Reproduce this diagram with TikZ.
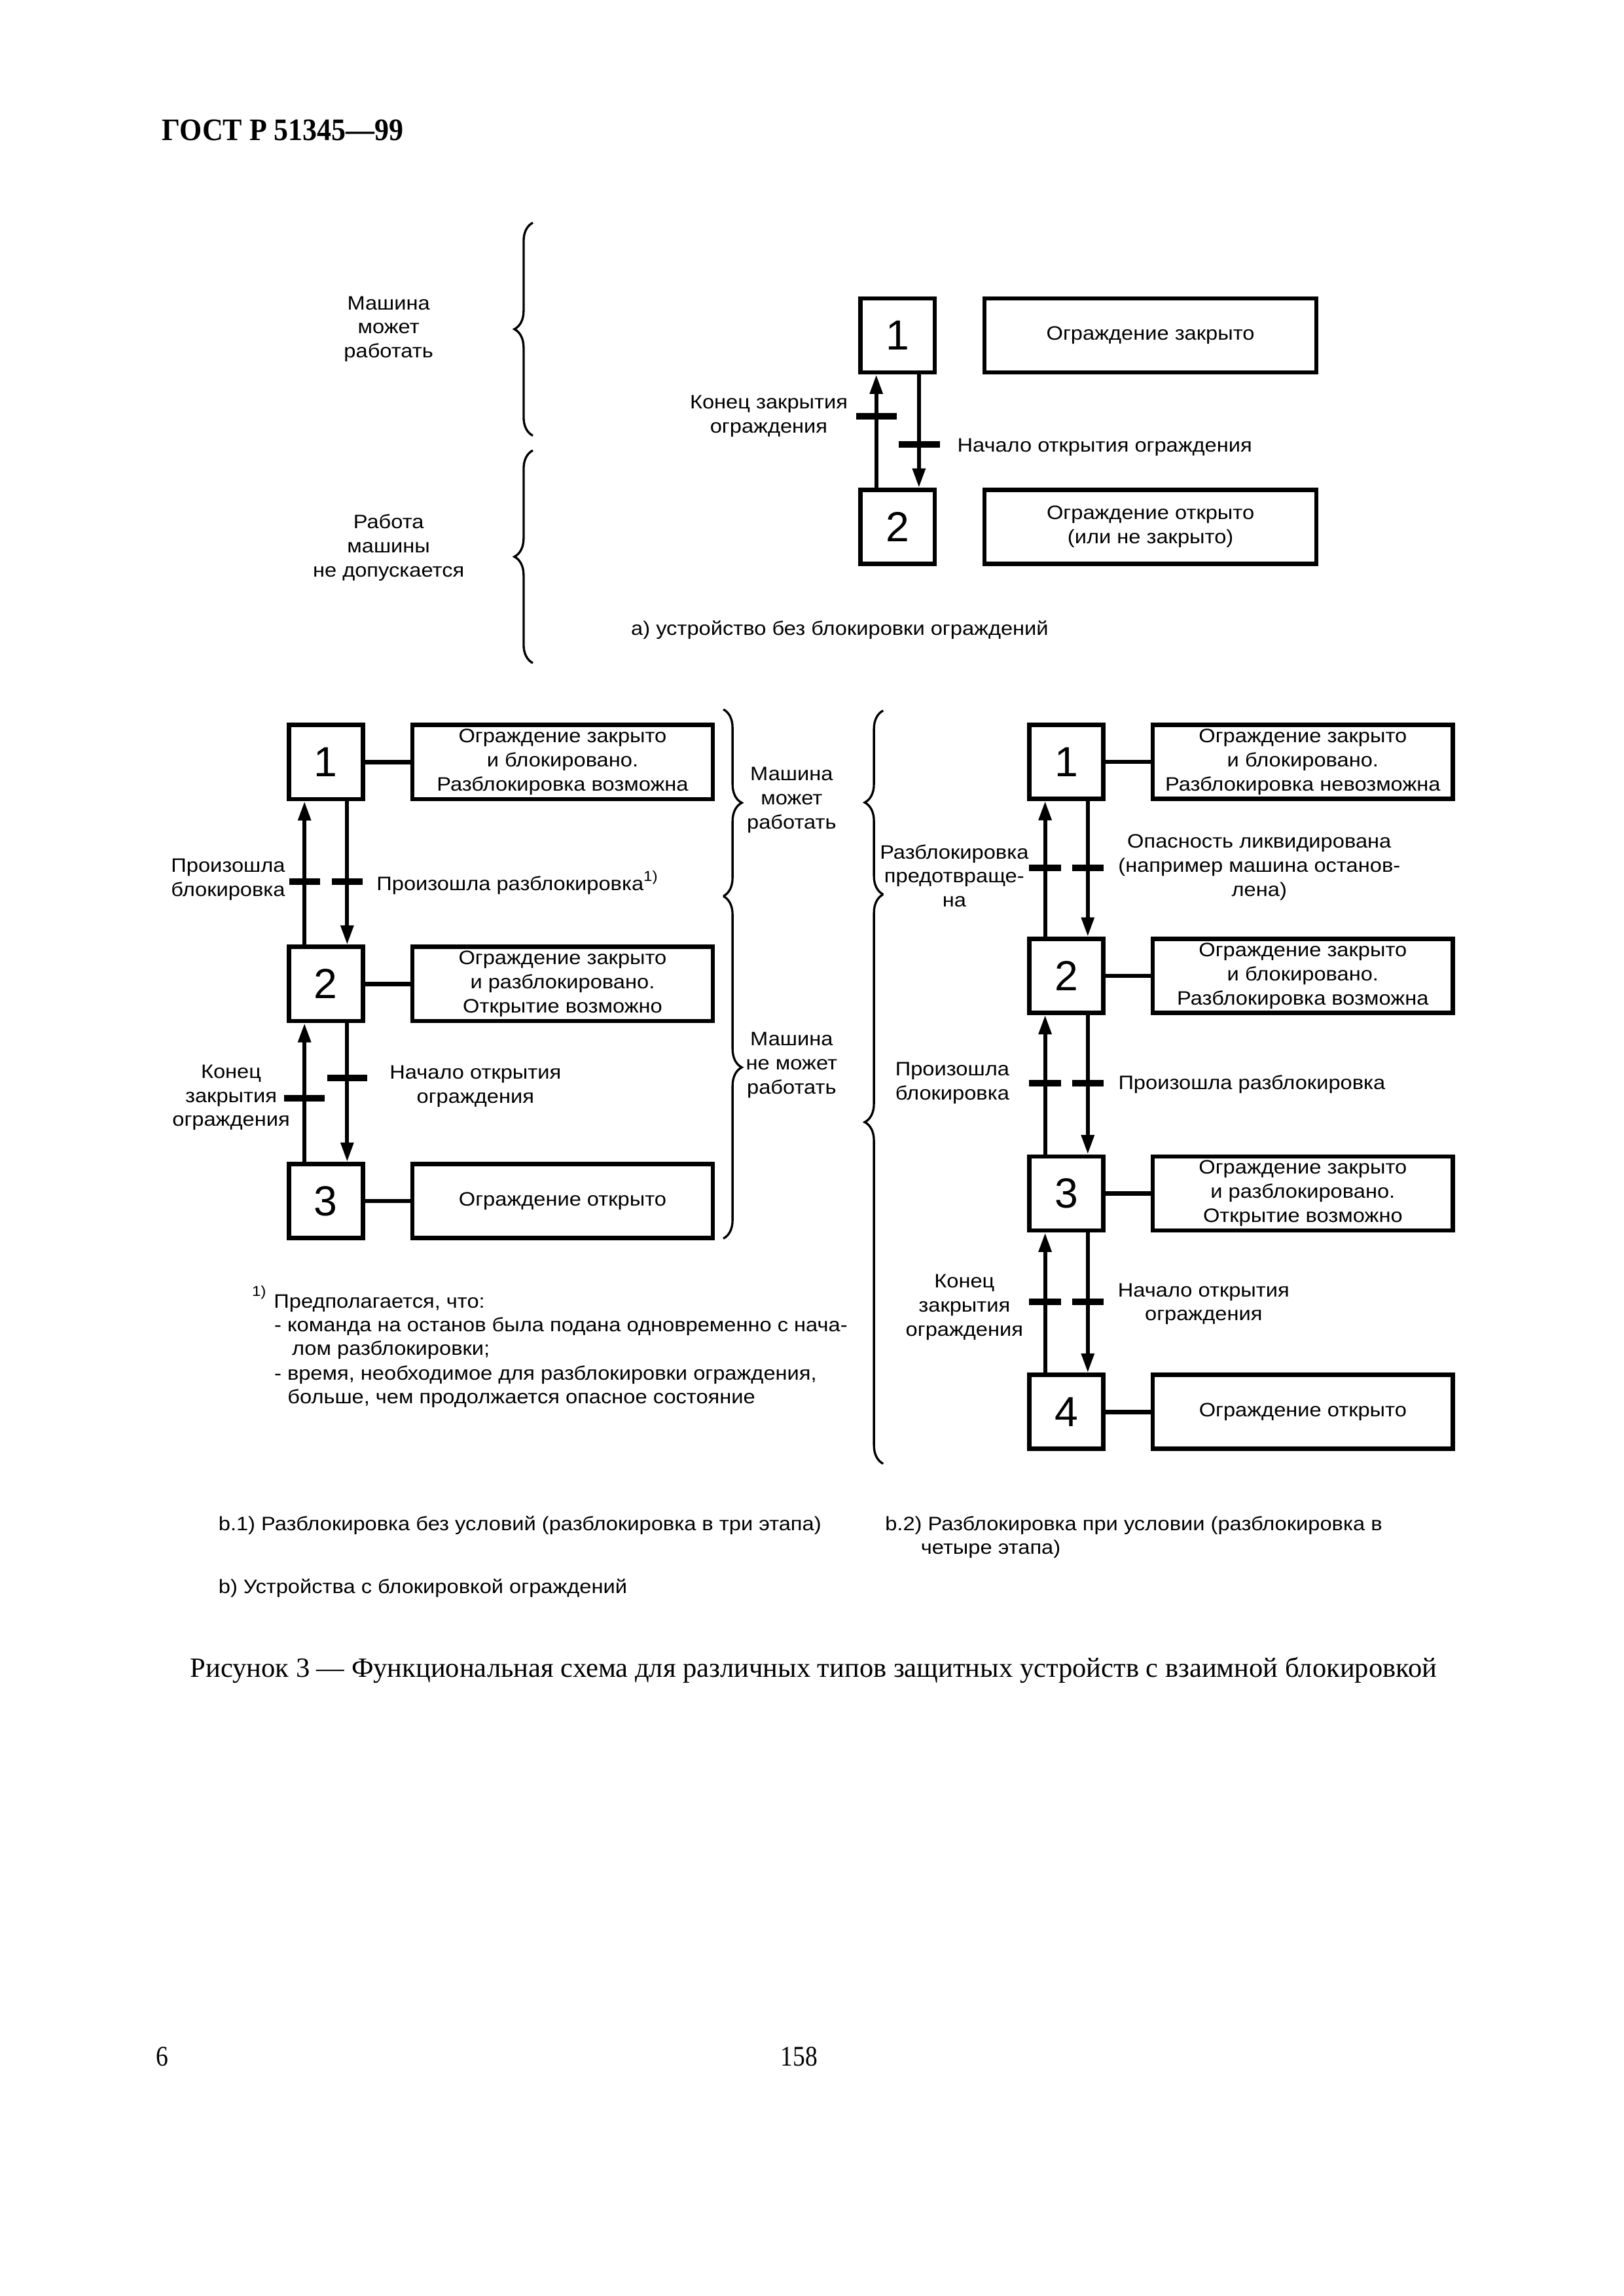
\documentclass[tikz,border=0pt]{standalone}
\usepackage{graphicx}
\usepackage{fontspec}
\setmainfont{Liberation Serif}
\newfontfamily\arialf{Liberation Sans}
\newfontfamily\arialw{Liberation Sans}[FakeStretch=1.10]
\usetikzlibrary{arrows.meta,decorations.pathreplacing,calc}
\def\txtf{\arialw\fontsize{7.15}{8.9}\selectfont}
\def\numf{\arialf\fontsize{15.5}{18}\selectfont}
\def\supf{\arialw\fontsize{5.3}{6}\selectfont}
\tikzset{
  num/.style={draw, line width=1.6pt, minimum width=0.958cm, minimum height=0.958cm, inner sep=0pt, font=\numf},
  tbox/.style={draw, line width=1.6pt, minimum width=#1, minimum height=0.958cm, inner sep=0pt, align=center, font=\txtf},
  lbl/.style={inner sep=0pt, align=center, font=\txtf},
  arr/.style={line width=1.5pt, -{Triangle[length=0.25cm,width=0.16cm]}},
  link/.style={line width=1.6pt},
  trans/.style={fill=black, inner sep=0pt, minimum height=2.4pt, minimum width=#1},
  brc/.style={decorate, decoration={brace, amplitude=6.8pt, aspect=#1}, line width=0.8pt},
}
\def\off{0.276cm}
\begin{document}
\begin{tikzpicture}[x=0.019039cm, y=-0.019039cm]
\useasboundingbox (0,0) rectangle (1103,1560);

% header
\node[anchor=base west, inner sep=0pt, font=\fontsize{11.5}{13}\selectfont\bfseries] (hdr) at (109.7,95.6) {\scalebox{0.92}[1]{ГОСТ Р 51345—99}};

% ================= part a =================
\node[num] (a1) at (609.8,227.9) {1};
\node[num] (a2) at (609.8,358.0) {2};
\node[tbox=4.294cm] (at1) at (781.6,227.9) {Ограждение закрыто};
\node[tbox=4.294cm] (at2) at (781.6,358.0) {Ограждение открыто\\(или не закрыто)};
\draw[arr] ([xshift=-\off]a2.north) -- ([xshift=-\off]a1.south);
\draw[arr] ([xshift=\off]a1.south) -- ([xshift=\off]a2.north);
\node[trans=0.524cm] (ta1) at (595.3,282.7) {};
\node[trans=0.530cm] (ta2) at (624.6,302.1) {};
\node[lbl] (la1) at (522.3,282.6) {Конец закрытия\\ограждения};
\node[lbl, anchor=mid west] (la2) at (650,303) {Начало открытия ограждения};
\node[lbl] (lma) at (264,223.6) {Машина\\может\\работать};
\node[lbl] (lmb) at (264,372.2) {Работа\\машины\\не допускается};
\draw[brc=0.5] (362,296) -- (362,151.3);
\draw[brc=0.5] (362,450.5) -- (362,306);
\node[lbl, anchor=mid west] (capa) at (428.4,427.2) {а) устройство без блокировки ограждений};

% ================= part b.1 =================
\node[num] (b1) at (221.35,517.75) {1};
\node[num] (b2) at (221.35,668.5) {2};
\node[num] (b3) at (221.35,816) {3};
\node[tbox=3.885cm] (bt1) at (382.2,517.75) {Ограждение закрыто\\и блокировано.\\Разблокировка возможна};
\node[tbox=3.885cm] (bt2) at (382.2,668.5) {Ограждение закрыто\\и разблокировано.\\Открытие возможно};
\node[tbox=3.885cm] (bt3) at (382.2,816) {Ограждение открыто};
\draw[link] (b1) -- (bt1);
\draw[link] (b2) -- (bt2);
\draw[link] (b3) -- (bt3);
\draw[arr] ([xshift=-\off]b2.north) -- ([xshift=-\off]b1.south);
\draw[arr] ([xshift=\off]b1.south) -- ([xshift=\off]b2.north);
\draw[arr] ([xshift=-\off]b3.north) -- ([xshift=-\off]b2.south);
\draw[arr] ([xshift=\off]b2.south) -- ([xshift=\off]b3.north);
\node[trans=0.40cm] (tb1) at (206.85,598.9) {};
\node[trans=0.40cm] (tb2) at (235.85,598.9) {};
\node[trans=0.52cm] (tb3) at (206.85,746.1) {};
\node[trans=0.52cm] (tb4) at (235.85,732.5) {};
\node[lbl] (lb1) at (155,597.6) {Произошла\\блокировка};
\node[lbl, anchor=mid west] (lb2) at (255.5,600.6) {Произошла разблокировка\raisebox{0.9ex}{\supf 1)}};
\node[lbl] (lb3) at (157,745.7) {Конец\\закрытия\\ограждения};
\node[lbl] (lb4) at (323,738) {Начало открытия\\ограждения};
\draw[brc=0.5] (491.4,482) -- (491.4,608.9);
\draw[brc=0.5] (491.4,608.9) -- (491.4,841.5);
\node[lbl] (lb5) at (537.8,543.7) {Машина\\может\\работать};
\node[lbl] (lb6) at (537.8,723.6) {Машина\\не может\\работать};

% footnote
\node[inner sep=0pt, font=\supf] (fn0) at (176,878) {1)};
\node[lbl, anchor=mid west] (fn1) at (185.7,884.5) {Предполагается, что:};
\node[lbl, anchor=mid west] (fn2) at (186,900.5) {- команда на останов была подана одновременно с нача-};
\node[lbl, anchor=mid west] (fn3) at (198,916.5) {лом разблокировки;};
\node[lbl, anchor=mid west] (fn4) at (186,933.3) {- время, необходимое для разблокировки ограждения,};
\node[lbl, anchor=mid west] (fn5) at (195,949.3) {больше, чем продолжается опасное состояние};

% ================= part b.2 =================
\node[num] (c1) at (724.5,517.6) {1};
\node[num] (c2) at (724.5,663) {2};
\node[num] (c3) at (724.5,810.9) {3};
\node[num] (c4) at (724.5,959.3) {4};
\node[tbox=3.885cm] (ct1) at (885.1,517.6) {Ограждение закрыто\\и блокировано.\\Разблокировка невозможна};
\node[tbox=3.885cm] (ct2) at (885.1,663) {Ограждение закрыто\\и блокировано.\\Разблокировка возможна};
\node[tbox=3.885cm] (ct3) at (885.1,810.9) {Ограждение закрыто\\и разблокировано.\\Открытие возможно};
\node[tbox=3.885cm] (ct4) at (885.1,959.3) {Ограждение открыто};
\draw[link] (c1) -- (ct1);
\draw[link] (c2) -- (ct2);
\draw[link] (c3) -- (ct3);
\draw[link] (c4) -- (ct4);
\draw[arr] ([xshift=-\off]c2.north) -- ([xshift=-\off]c1.south);
\draw[arr] ([xshift=\off]c1.south) -- ([xshift=\off]c2.north);
\draw[arr] ([xshift=-\off]c3.north) -- ([xshift=-\off]c2.south);
\draw[arr] ([xshift=\off]c2.south) -- ([xshift=\off]c3.north);
\draw[arr] ([xshift=-\off]c4.north) -- ([xshift=-\off]c3.south);
\draw[arr] ([xshift=\off]c3.south) -- ([xshift=\off]c4.north);
\node[trans=0.41cm] (tc1) at (710,589.6) {};
\node[trans=0.41cm] (tc2) at (739,589.6) {};
\node[trans=0.41cm] (tc3) at (710,736) {};
\node[trans=0.41cm] (tc4) at (739,736) {};
\node[trans=0.41cm] (tc5) at (710,884.7) {};
\node[trans=0.41cm] (tc6) at (739,884.7) {};
\node[lbl] (lc1) at (648.3,595.1) {Разблокировка\\предотвраще-\\на};
\node[lbl] (lc2) at (855.5,589.2) {Опасность ликвидирована\\(например машина останов-\\лена)};
\node[lbl] (lc3) at (647,736) {Произошла\\блокировка};
\node[lbl, anchor=mid west] (lc4) at (759.4,736) {Произошла разблокировка};
\node[lbl] (lc5) at (655.2,888.4) {Конец\\закрытия\\ограждения};
\node[lbl] (lc6) at (817.7,886) {Начало открытия\\ограждения};
\draw[brc=0.5] (600,607.7) -- (600,482.8);
\draw[brc=0.6] (600,994.5) -- (600,607.7);

% captions
\node[lbl, anchor=mid west] (capb1) at (148.1,1035.5) {b.1) Разблокировка без условий (разблокировка в три этапа)};
\node[lbl, anchor=mid west] (capb2) at (601,1035.5) {b.2) Разблокировка при условии (разблокировка в};
\node[lbl, anchor=mid west] (capb2b) at (625.3,1051.5) {четыре этапа)};
\node[lbl, anchor=mid west] (capb) at (148.1,1078.5) {b) Устройства с блокировкой ограждений};
\node[anchor=mid, inner sep=0pt, font=\fontsize{10.25}{12}\selectfont] (fig) at (552.7,1135.2) {Рисунок 3 — Функциональная схема для различных типов защитных устройств с взаимной блокировкой};
\node[anchor=mid, inner sep=0pt, font=\fontsize{10.5}{12}\selectfont] (pg1) at (110.3,1399.6) {\scalebox{0.86}[1]{6}};
\node[anchor=mid, inner sep=0pt, font=\fontsize{10.5}{12}\selectfont] (pg2) at (543,1399.6) {\scalebox{0.86}[1]{158}};
\end{tikzpicture}
\end{document}
